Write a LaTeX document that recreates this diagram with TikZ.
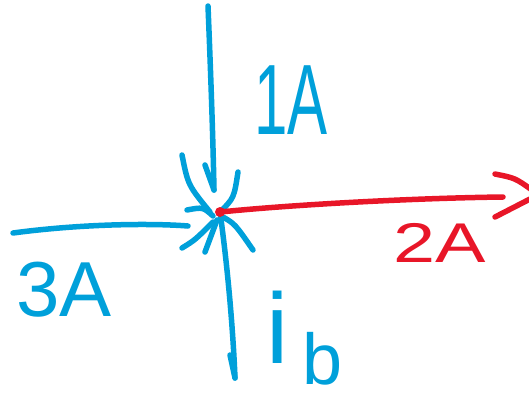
\documentclass[tikz,border=0pt]{standalone}
\usepackage{fontspec}
\setmainfont{Liberation Sans}
\usepackage{graphicx}
\definecolor{pen}{RGB}{0,160,218}
\definecolor{redpen}{RGB}{232,22,40}
\tikzset{
  ink/.style={draw=pen, line width=5.5pt, line cap=round, line join=round},
  redink/.style={draw=redpen, line width=5.5pt, line cap=round, line join=round},
  lbl/.style={inner sep=0pt, outer sep=0pt}
}
\begin{document}
\begin{tikzpicture}[x=1pt,y=-1pt]
\useasboundingbox (0,0) rectangle (529,400);
\clip (0,0) rectangle (529,400);
% named points
\coordinate (top) at (208,6);
\coordinate (tipD) at (214,190);
\coordinate (left) at (13,233);
\coordinate (tipL) at (188,226);
\coordinate (J) at (220,212);
\coordinate (bot) at (235,378);
\coordinate (tipR) at (503,197);
% incoming from top (1A)
\draw[ink] (top) .. controls (211,80) and (213,140) .. (tipD);
\draw[ink] (205,165) -- (tipD);
% fan strokes round the junction
\draw[ink] (182,155) .. controls (188,185) .. (210,212);
\draw[ink] (238,172) .. controls (234,198) .. (J);
% incoming from left (3A)
\draw[ink] (left) .. controls (80,224) and (150,223) .. (tipL);
\draw[ink] (187,210) .. controls (203,207) .. (213,216);
\draw[ink] (182,248) .. controls (195,240) .. (213,222);
\draw[ink] (205,252) -- (217,220);
\draw[ink] (223,217) .. controls (235,224) .. (253,250);
% outgoing down (i_b)
\draw[ink] (J) .. controls (228,270) and (233,330) .. (bot);
\draw[ink] (230,355) -- (bot);
% outgoing right (2A)
\draw[redink] (J) .. controls (300,204) and (420,198) .. (tipR);
\fill[redpen] (J) circle (5pt);
\draw[redink] (495,174) .. controls (515,178) .. (532,190);
\draw[redink] (495,217) .. controls (512,208) .. (530,199);
% labels
\node[lbl, text=pen] (l1) at (291,100) {\scalebox{0.6}[1]{\fontsize{100}{100}\selectfont 1A}};
\node[lbl, text=pen] (l3) at (64,290) {\fontsize{78}{78}\selectfont 3A};
\node[lbl, text=redpen] (l2) at (440,243) {\scalebox{1.35}[1]{\fontsize{56}{56}\selectfont 2A}};
\node[lbl, text=pen, anchor=base west] (lib) at (266,363) {\fontsize{100}{100}\selectfont i\hspace{14pt}\raisebox{-21pt}[52pt][0pt]{\fontsize{72}{72}\selectfont b}};
\end{tikzpicture}
\end{document}
